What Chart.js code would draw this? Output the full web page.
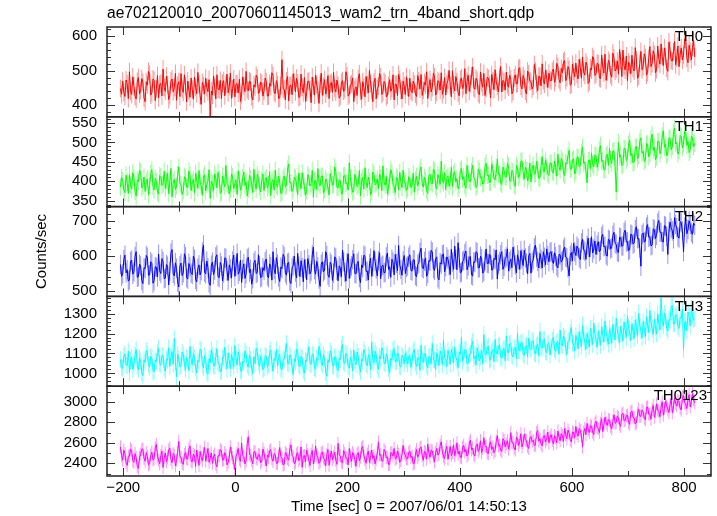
<!DOCTYPE html>
<html>
<head>
<meta charset="utf-8">
<script src="https://cdn.jsdelivr.net/npm/chart.js@4.4.1/dist/chart.umd.min.js"></script>
<style>
  html, body { margin: 0; padding: 0; background: #fff; }
  #c { display: block; }
</style>
</head>
<body>
<canvas id="c" width="717" height="516"></canvas>
<script>
// ---- data (time bins: start T_START, step T_STEP seconds) ----
const T_START = -205;
const T_STEP = 2;

const TH0 = [
448,431,470,437,425,473,462,419,497,440,431,482,455,426,418,469,480,433,442,477,466,421,410,468,458,498,489,429,436,476,472,413,447,486,421,460,463,427,505,451,440,484,459,416,428,470,476,439,451,492,414,458,468,425,492,446,437,488,455,409,470,443,423,479,446,417,481,452,433,495,461,428,402,466,457,432,478,451,439,474,368,441,429,485,452,418,488,447,444,472,419,463,471,427,458,490,436,454,493,420,447,476,424,461,462,435,475,411,430,482,456,439,498,445,441,470,467,424,415,459,452,487,479,434,438,467,463,426,
441,479,468,426,427,463,455,494,486,438,433,471,460,419,421,457,532,448,446,415,470,483,412,456,458,430,491,467,439,478,464,422,425,490,452,436,480,411,436,469,469,445,407,481,455,429,487,459,442,405,461,493,428,454,474,432,450,486,419,462,466,437,495,449,438,473,457,420,426,466,471,440,445,497,484,426,431,458,462,479,410,446,453,428,477,491,440,417,468,452,424,483,459,435,501,463,443,410,466,478,418,448,455,492,482,431,437,469,463,424,429,457,474,440,448,488,415,461,460,427,489,474,442,418,470,455,431,482,
452,425,478,441,436,470,461,432,425,486,470,447,489,428,443,466,458,497,419,455,474,438,451,493,482,429,437,471,466,444,494,431,445,480,429,462,472,501,456,424,500,459,441,483,468,436,427,474,479,448,455,506,433,469,487,440,462,485,511,451,446,478,472,434,430,496,465,452,492,428,449,481,478,459,421,489,470,445,503,467,455,438,481,512,438,472,467,444,496,459,452,487,475,433,440,479,488,462,463,505,509,455,447,486,476,441,432,499,491,470,468,447,455,518,499,462,442,484,483,456,520,471,461,502,478,451,493,474,
470,498,505,466,478,521,512,474,465,507,494,526,530,471,480,512,503,458,461,519,498,482,522,490,476,533,509,478,540,496,487,525,515,463,468,508,502,541,534,486,491,522,520,479,477,546,511,493,548,472,496,530,523,488,481,551,537,499,505,528,490,562,529,483,560,514,502,543,471,525,518,491,545,507,499,567,531,478,484,521,556,503,512,549,538,487,495,536,570,512,521,558,547,494,503,572,533,519,578,541,515,566,542,507,498,583,561,530,528,555,585,517,537,572,512,548,566,531,545,592,590,536,523,574,555,532,568,587,540
];
const TH1 = [
385,410,402,378,371,416,396,369,418,391,380,422,410,374,362,404,399,428,425,383,388,411,374,399,406,365,391,420,430,387,378,408,400,372,367,415,412,389,393,426,381,402,421,368,398,433,360,397,405,379,388,418,437,394,392,366,375,412,409,385,384,427,416,376,397,405,370,421,403,382,428,398,389,364,411,417,376,392,400,430,356,401,394,375,419,408,383,423,407,369,372,414,398,386,441,395,390,368,378,419,412,381,395,404,366,427,403,377,386,410,424,389,399,362,380,415,408,393,371,431,395,380,418,406,387,373,402,419,
376,404,410,383,392,425,363,399,404,377,429,390,385,413,398,368,371,407,414,386,390,432,445,396,397,374,380,411,408,393,366,421,400,381,422,402,387,364,375,417,411,388,394,428,359,401,403,379,433,396,389,412,414,370,378,406,399,383,365,420,407,391,391,437,426,385,383,403,402,367,370,414,415,394,396,378,448,409,388,372,376,418,406,387,392,428,362,400,410,380,435,397,384,411,399,365,373,424,418,391,395,406,381,419,409,376,440,398,390,413,367,385,404,430,421,392,386,371,411,408,378,423,398,384,429,402,393,377,
381,412,406,384,390,421,372,403,413,388,398,429,437,395,385,410,402,376,369,415,418,397,393,431,427,386,380,417,409,392,452,403,396,422,378,409,414,387,401,436,386,419,425,398,407,381,390,428,433,405,412,389,382,441,420,401,399,426,441,410,405,384,388,432,426,409,410,393,395,438,447,415,416,397,398,445,431,408,404,422,458,417,419,396,392,437,428,412,411,446,439,402,400,428,423,391,387,441,434,410,416,452,452,425,405,436,429,401,413,447,398,430,442,418,420,451,431,407,409,440,464,426,425,455,438,419,415,447,
447,425,421,452,436,413,470,438,428,459,452,420,415,448,445,466,480,431,432,455,458,419,426,462,462,437,441,475,488,446,450,428,396,453,455,433,473,444,437,468,466,436,449,481,492,452,455,429,430,466,470,441,485,456,446,478,478,439,372,451,500,462,468,440,443,485,484,453,461,496,506,466,472,447,450,488,489,458,466,503,512,472,478,451,455,497,495,463,470,509,521,479,488,456,462,502,503,471,480,517,530,488,495,466,473,512,511,481,489,524,537,496,500,470,478,518,515,486,495,529,526,492,503,474,482,516,512,489,498
];
const TH2 = [
575,541,548,589,602,551,560,527,531,584,588,547,553,598,612,538,540,576,571,529,520,566,563,601,596,544,545,583,578,521,528,569,567,539,605,556,549,592,583,534,536,575,570,516,555,608,618,549,542,580,564,524,510,571,579,543,551,606,597,537,533,578,568,550,546,599,590,532,525,564,574,545,557,611,631,553,548,585,566,522,515,573,582,546,559,597,603,540,537,581,571,528,550,594,593,556,529,574,562,536,585,602,541,569,607,547,555,588,523,561,577,535,548,592,596,552,561,518,534,580,587,549,552,603,572,537,540,566,
558,583,591,542,537,577,569,530,612,561,548,595,576,539,526,568,563,604,598,551,544,579,581,527,520,565,572,599,553,536,607,570,540,586,566,525,589,563,531,592,574,548,556,603,625,560,547,584,568,533,512,576,583,554,559,612,601,545,538,581,575,529,550,597,594,558,528,571,565,540,617,583,552,527,580,606,535,563,571,589,606,549,548,578,584,537,523,574,566,602,599,555,556,530,577,593,541,568,615,584,562,542,586,609,534,570,573,551,552,597,608,561,569,538,590,582,545,604,578,557,630,573,561,544,585,601,549,567,
571,596,603,558,556,589,588,543,540,575,579,610,622,566,563,584,594,541,549,587,584,616,611,563,558,592,597,537,531,580,576,603,605,554,569,597,590,572,546,619,582,561,628,590,560,638,595,551,553,584,587,606,614,560,571,596,598,545,542,583,581,612,609,565,566,599,592,550,555,587,620,578,578,604,601,559,560,593,589,617,533,576,584,603,612,561,570,592,597,620,556,583,590,566,625,600,574,551,603,588,561,615,592,572,616,594,579,548,600,607,550,581,588,623,631,596,584,565,607,590,565,612,596,574,620,601,583,610,
612,586,578,609,598,571,565,604,603,582,587,619,625,596,594,566,542,601,610,585,636,612,601,628,622,595,589,637,648,617,613,590,630,651,597,624,655,608,620,643,604,631,641,612,616,655,662,626,628,603,599,648,645,620,623,659,668,636,633,612,610,654,652,628,629,667,674,640,641,615,618,663,660,634,637,676,684,649,650,622,570,661,666,640,642,683,690,654,655,629,631,678,675,650,659,694,702,668,668,641,640,687,685,657,604,671,697,680,672,649,710,690,681,655,651,699,695,672,612,683,704,664,676,701,690,668,662,694,688
];
const TH3 = [
1070,1031,1025,1087,1098,1042,1040,1112,1005,1064,1082,1021,1047,1093,1120,1037,1018,1078,1063,1003,990,1069,1055,1116,1101,1044,1032,1085,1076,1012,1008,1067,1059,1104,1127,1049,1041,1091,1088,1026,1012,1073,1066,1128,1035,1081,1110,1046,1175,1058,983,1096,1072,1033,1038,1107,1093,1052,1020,1080,1061,1014,1136,1071,1044,1099,1079,1028,1003,1066,1057,1122,1115,1043,1029,1089,1068,1007,996,1074,1052,1118,1090,1039,1037,1086,1124,1053,1046,1010,1011,1079,1075,1131,1058,1022,1103,1064,1024,1095,1065,1034,1140,1077,1042,1108,1081,1016,1009,1061,1054,1113,1097,1045,1031,1092,1070,1027,1000,1083,1049,1126,1109,1055,1036,1087,1062,1019,
1027,1090,1085,1034,1043,1102,1118,1056,1010,1075,1064,1119,1039,1081,1096,1024,1017,1068,1072,1109,1150,1051,1048,1093,1083,1030,995,1074,1058,1121,1106,1042,1033,1087,1077,1015,1002,1066,1060,1103,1131,1049,1045,1098,1089,1027,1021,1078,1067,1135,1112,1054,1040,1092,1074,1006,985,1069,1055,1114,1099,1041,1036,1084,1081,1023,1014,1076,1069,1127,1145,1057,1050,1101,1092,1035,1026,1083,1071,1012,1118,1065,1044,1107,1086,1031,1008,1072,1063,1120,1101,1047,1038,1094,1079,1018,1158,1068,1052,1111,1095,1040,1020,1085,1073,1129,1114,1053,1047,1099,1088,1025,1003,1077,1066,1117,1125,1061,1059,1102,1097,1036,1032,1090,1080,1048,1104,1071,
1048,1086,1093,1031,1061,1107,1120,1052,1035,1079,1078,1015,1142,1063,1056,1098,1099,1040,1027,1085,1084,1048,1151,1070,1067,1019,1104,1081,1040,1112,1090,1044,1168,1076,1072,1035,1115,1089,1046,1121,1095,1053,1131,1080,1064,1029,1108,1095,1182,1061,1079,1118,1121,1047,1053,1092,1101,1138,1160,1074,1087,1041,1129,1103,1062,1082,1113,1050,1195,1096,1094,1127,1137,1068,1071,1109,1120,1058,1170,1100,1099,1135,1143,1081,1076,1117,1126,1063,1188,1106,1104,1149,1150,1090,1082,1124,1133,1073,1201,1115,1112,1152,1158,1097,1090,1134,1141,1084,1176,1125,1118,1162,1165,1102,1098,1139,1147,1088,1210,1131,1127,1168,1172,1110,1105,1146,1154,1093,
1132,1168,1181,1121,1110,1154,1160,1096,1218,1143,1139,1187,1176,1128,1095,1162,1165,1205,1230,1151,1148,1113,1190,1167,1124,1209,1172,1136,1242,1184,1158,1121,1201,1170,1133,1226,1183,1145,1252,1197,1169,1132,1212,1178,1141,1233,1195,1158,1263,1201,1180,1146,1224,1190,1152,1245,1207,1168,1276,1213,1191,1155,1236,1199,1162,1258,1218,1181,1289,1229,1203,1166,1248,1210,1175,1269,1230,1192,1301,1241,1214,1178,1260,1222,1186,1284,1242,1205,1315,1254,1226,1196,1271,1232,1198,1298,1253,1219,1378,1262,1238,1301,1283,1227,1212,1270,1266,1335,1340,1248,1250,1289,1295,1236,1225,1281,1278,1320,1120,1257,1262,1214,1308,1285,1240,1326,1290,1268,1275
];
const TH0123 = [
2560,2475,2430,2528,2495,2405,2380,2470,2470,2540,2525,2425,2410,2495,2455,2370,2350,2460,2490,2535,2540,2450,2420,2505,2465,2385,2395,2480,2510,2430,2445,2550,2585,2470,2430,2395,2475,2520,2360,2455,2500,2415,2455,2530,2550,2440,2405,2495,2480,2375,2430,2510,2615,2465,2460,2400,2390,2485,2505,2445,2440,2540,2570,2420,2415,2490,2475,2370,2530,2455,2380,2515,2460,2425,2495,2555,2420,2480,2545,2410,2450,2500,2400,2465,2490,2390,2365,2475,2470,2535,2520,2430,2435,2505,2480,2385,2410,2460,2560,2495,2455,2405,2340,2470,2495,2545,2440,2420,2600,2480,2465,2395,2425,2590,2660,2490,2475,2430,2395,2515,2510,2450,2440,2485,2480,2405,2420,2540,
2500,2435,2375,2480,2460,2520,2535,2445,2420,2495,2485,2400,2400,2470,2555,2465,2450,2385,2390,2505,2490,2445,2430,2540,2580,2475,2465,2395,2410,2490,2505,2425,2445,2560,2360,2470,2475,2415,2530,2485,2425,2380,2490,2525,2395,2460,2570,2480,2455,2400,2415,2500,2510,2450,2440,2375,2485,2535,2380,2460,2520,2435,2465,2510,2430,2390,2595,2480,2470,2415,2405,2525,2495,2455,2450,2385,2545,2470,2420,2505,2480,2440,2370,2490,2505,2425,2460,2550,2565,2475,2435,2400,2490,2520,2410,2460,2530,2445,2475,2395,2440,2500,2610,2480,2485,2425,2420,2535,2515,2455,2460,2390,2390,2505,2500,2470,2545,2440,2450,2520,2490,2410,2430,2485,2575,2500,2480,2445,
2445,2505,2520,2455,2470,2395,2400,2490,2535,2460,2485,2550,2560,2475,2430,2515,2505,2440,2590,2500,2460,2530,2520,2465,2415,2505,2545,2480,2490,2575,2610,2510,2470,2445,2530,2565,2440,2500,2565,2475,2505,2580,2475,2525,2600,2490,2520,2460,2455,2555,2575,2510,2535,2470,2490,2600,2625,2530,2550,2485,2470,2570,2590,2515,2540,2620,2505,2545,2650,2565,2565,2500,2495,2590,2610,2535,2560,2505,2525,2615,2670,2570,2580,2530,2515,2640,2625,2560,2590,2620,2540,2585,2700,2605,2600,2550,2530,2655,2640,2575,2610,2690,2560,2600,2685,2630,2620,2565,2545,2650,2660,2610,2625,2575,2580,2700,2720,2615,2640,2590,2570,2665,2670,2610,2635,2705,2600,2655,
2680,2625,2590,2670,2650,2600,2715,2655,2620,2690,2670,2615,2740,2680,2640,2725,2695,2630,2610,2705,2700,2650,2760,2690,2665,2740,2720,2670,2560,2705,2740,2680,2790,2725,2700,2770,2760,2705,2680,2790,2810,2750,2740,2700,2790,2835,2710,2775,2850,2795,2770,2830,2820,2760,2735,2810,2875,2790,2800,2860,2845,2780,2760,2880,2890,2815,2820,2865,2870,2800,2780,2900,2910,2850,2845,2785,2795,2885,2930,2860,2860,2920,2905,2840,2825,2945,2950,2880,2880,2830,2925,2965,2850,2900,2980,2920,2905,2855,2950,3000,2870,2935,3010,2960,2930,2895,2975,3030,2895,2950,3040,2985,2960,3015,3000,2940,2920,3050,3060,2990,2980,2935,3025,3070,2950,3005,3080,3020,2990
];

const SERIES = [TH0, TH1, TH2, TH3, TH0123];
// half-length of the (lighter) error bar drawn at every bin, counts/sec
const ERRORS = [26, 22, 28, 42, 64];
const NAMES = ['TH0', 'TH1', 'TH2', 'TH3', 'TH0123'];
const COLORS = ['#ff0000', '#00ff00', '#0000ff', '#00ffff', '#ff00ff'];
const ERR_COLORS = ['rgba(255,0,0,0.42)', 'rgba(0,255,0,0.42)', 'rgba(0,0,255,0.42)', 'rgba(0,255,255,0.48)', 'rgba(255,0,255,0.42)'];
const Y_MIN = [366, 335, 483, 936, 2276];
const Y_MAX = [627, 566, 742, 1386, 3153];
const Y_MAJOR = [100, 50, 100, 100, 200];
const Y_MINOR = [20, 10, 20, 20, 100];
const X_MIN = -229, X_MAX = 848, X_MAJOR = 200, X_MINOR = 100;
const TITLE = 'ae702120010_20070601145013_wam2_trn_4band_short.qdp';
const X_TITLE = 'Time [sec] 0 = 2007/06/01 14:50:13';
const Y_TITLE = 'Counts/sec';

// ---- chart ----
const FAMILY = "'Liberation Sans', Arial, Helvetica, sans-serif";
const FONT = { family: FAMILY, size: 15 };
const fmt = v => (v < 0 ? '\u2212' + Math.abs(v) : String(v));

const datasets = SERIES.map((arr, k) => ({
  label: NAMES[k],
  data: arr.map((v, i) => ({ x: T_START + i * T_STEP, y: v })),
  yAxisID: 'y' + k,
  borderColor: COLORS[k],
  borderWidth: 1,
  pointRadius: 0,
  tension: 0,
  fill: false
}));

const scales = {
  x: {
    type: 'linear', position: 'bottom', min: X_MIN, max: X_MAX,
    afterFit(s) { s.height = 40; },
    grid: { display: false, drawTicks: false }, border: { display: false },
    ticks: {
      stepSize: X_MINOR, maxTicksLimit: 1000, autoSkip: false, includeBounds: false, maxRotation: 0,
      padding: 3, font: FONT, color: '#000',
      callback: v => (Math.round(v) % X_MAJOR === 0 ? fmt(Math.round(v)) : '')
    },
    title: { display: true, text: X_TITLE, font: FONT, color: '#000', padding: { top: 0, bottom: 0 } }
  }
};
for (let k = 4; k >= 0; k--) {
  scales['y' + k] = {
    type: 'linear', position: 'left', stack: 'panels', stackWeight: 1, weight: 5 - k,
    min: Y_MIN[k], max: Y_MAX[k],
    afterFit(s) { s.width = 107; },
    grid: { display: false, drawTicks: false }, border: { display: false },
    ticks: {
      stepSize: Y_MINOR[k], maxTicksLimit: 1000, autoSkip: false, includeBounds: false, padding: 10,
      font: FONT, color: '#000',
      callback: v => (Math.round(v) % Y_MAJOR[k] === 0 ? String(Math.round(v)) : '')
    }
  };
}

// error bars (lighter vertical segments) under each line, through the scales
const errorBarPlugin = {
  id: 'errbars',
  beforeDatasetsDraw(chart) {
    const ctx = chart.ctx, ca = chart.chartArea, xs = chart.scales.x;
    ctx.save();
    ctx.lineWidth = 1;
    SERIES.forEach((arr, k) => {
      const ys = chart.scales['y' + k];
      ctx.save();
      ctx.beginPath();
      ctx.rect(ca.left, ys.top, ca.right - ca.left, ys.bottom - ys.top);
      ctx.clip();
      ctx.strokeStyle = ERR_COLORS[k];
      ctx.beginPath();
      arr.forEach((v, i) => {
        const px = xs.getPixelForValue(T_START + i * T_STEP);
        ctx.moveTo(px, ys.getPixelForValue(v - ERRORS[k]));
        ctx.lineTo(px, ys.getPixelForValue(v + ERRORS[k]));
      });
      ctx.stroke();
      ctx.restore();
    });
    ctx.restore();
  }
};

const panelPlugin = {
  id: 'panels',
  afterDraw(chart) {
    const ctx = chart.ctx, ca = chart.chartArea, xs = chart.scales.x;
    ctx.save();
    for (let k = 0; k < 5; k++) {
      const ys = chart.scales['y' + k];
      const top = ys.top, bot = ys.bottom;
      ctx.strokeStyle = '#333';
      ctx.lineWidth = 1;
      ctx.beginPath();
      xs.ticks.forEach(t => {
        const px = Math.round(xs.getPixelForValue(t.value)) + 0.5;
        const L = Math.round(t.value) % X_MAJOR === 0 ? 8 : 5;
        ctx.moveTo(px, top); ctx.lineTo(px, top + L);
        ctx.moveTo(px, bot); ctx.lineTo(px, bot - L);
      });
      ys.ticks.forEach(t => {
        const py = Math.round(ys.getPixelForValue(t.value)) + 0.5;
        const L = Math.round(t.value) % Y_MAJOR[k] === 0 ? 8 : 4;
        ctx.moveTo(ca.left, py); ctx.lineTo(ca.left + L, py);
        ctx.moveTo(ca.right, py); ctx.lineTo(ca.right - L, py);
      });
      ctx.stroke();
      ctx.strokeStyle = '#222';
      ctx.lineWidth = 1.5;
      ctx.strokeRect(ca.left, top, ca.right - ca.left, bot - top);
      ctx.fillStyle = '#000';
      ctx.font = '15px ' + FAMILY;
      ctx.textAlign = 'right';
      ctx.textBaseline = 'middle';
      ctx.fillText(NAMES[k], ca.right - (k === 4 ? 4 : 8), top + 10);
    }
    // title
    ctx.font = '15.6px ' + FAMILY;
    ctx.textAlign = 'left';
    ctx.textBaseline = 'middle';
    ctx.fillText(TITLE, ca.left, 14);
    // y title
    ctx.font = '15px ' + FAMILY;
    ctx.translate(42, (ca.top + ca.bottom) / 2);
    ctx.rotate(-Math.PI / 2);
    ctx.textAlign = 'center';
    ctx.fillText(Y_TITLE, 0, 0);
    ctx.restore();
  }
};

new Chart(document.getElementById('c'), {
  type: 'line',
  data: { datasets },
  options: {
    responsive: false, animation: false, devicePixelRatio: 1,
    layout: { padding: { top: 27, right: 6, left: 0, bottom: 0 } },
    plugins: { legend: { display: false }, tooltip: { enabled: false }, title: { display: false } },
    scales
  },
  plugins: [errorBarPlugin, panelPlugin]
});
</script>
</body>
</html>
